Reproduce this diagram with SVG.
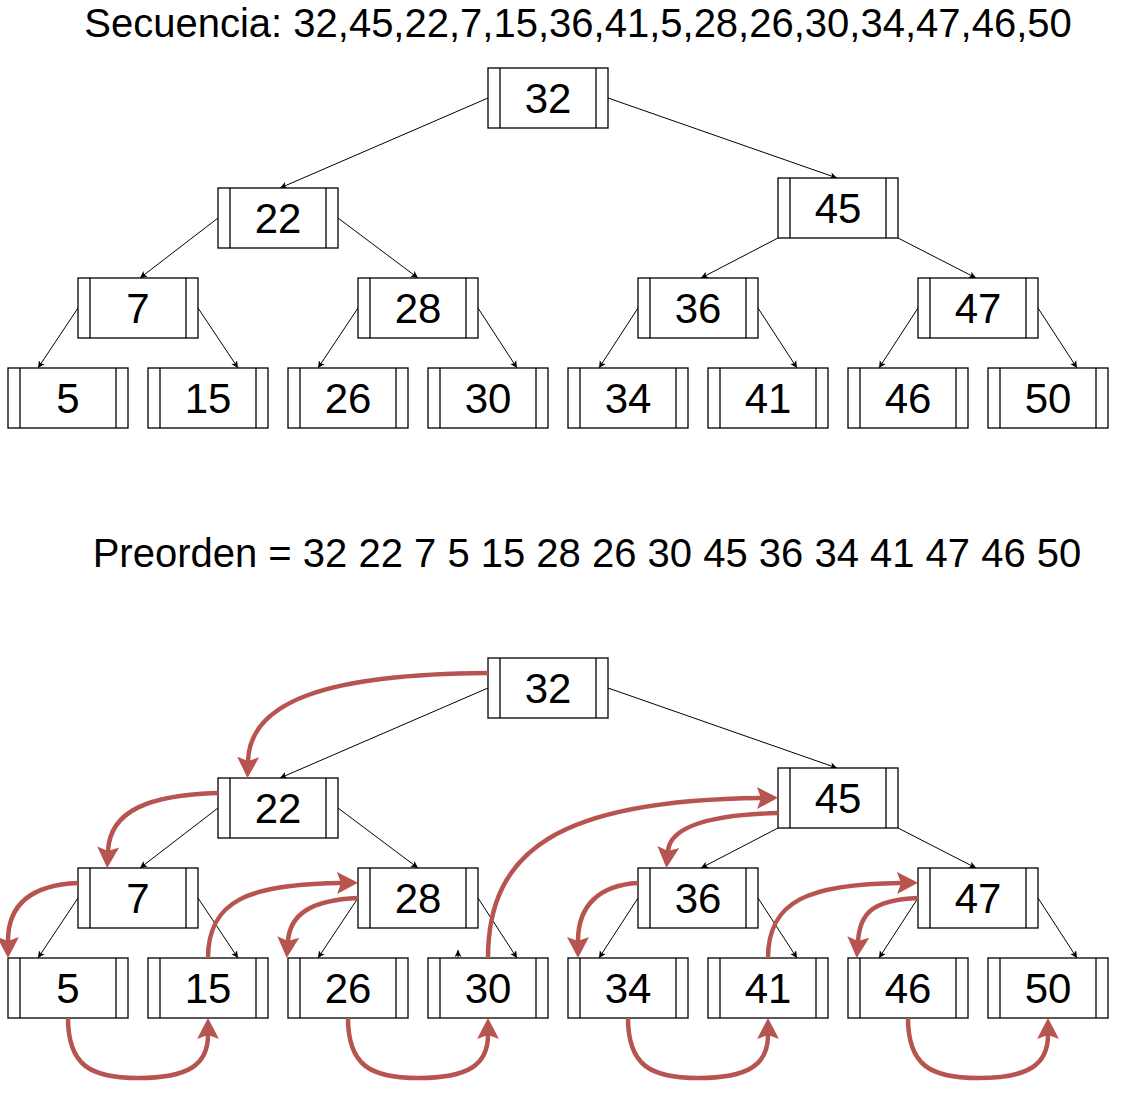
<svg xmlns="http://www.w3.org/2000/svg" width="1129" height="1094" viewBox="0 0 1129 1094">
<style>
.bg{fill:#ffffff}
.box{fill:#ffffff;stroke:#000000;stroke-width:1.3}
.in{stroke:#000000;stroke-width:1.3}
.lbl{font-family:"Liberation Sans",Arial,sans-serif;font-size:42px;fill:#000000;text-anchor:middle}
.ttl{font-family:"Liberation Sans",Arial,sans-serif;font-size:40px;fill:#000000;text-anchor:middle}
.e{fill:none;stroke:#000000;stroke-width:1;marker-end:url(#ba)}
.r{fill:none;stroke:#b85450;stroke-width:4.5;marker-end:url(#ra)}
</style>
<defs>
<marker id="ba" markerUnits="userSpaceOnUse" markerWidth="10" markerHeight="10" viewBox="0 -5 10 10" refX="7" refY="0" orient="auto">
<path d="M0,-3.5 L7,0 L0,3.5 L1.75,0 Z" fill="#000000"/>
</marker>
<marker id="ra" markerUnits="userSpaceOnUse" markerWidth="26" markerHeight="26" viewBox="0 -13 26 26" refX="4" refY="0" orient="auto">
<path d="M0,-11 L21,0 L0,11 L4,0 Z" fill="#b85450"/>
</marker>
<g id="nodeShape">
<rect class="box" x="0" y="0" width="120" height="60"/>
<line class="in" x1="12" y1="0" x2="12" y2="60"/>
<line class="in" x1="108" y1="0" x2="108" y2="60"/>
</g>
</defs>
<rect class="bg" x="0" y="0" width="1129" height="1094"/>

<g id="titles">
<text class="ttl" x="578" y="37">Secuencia: 32,45,22,7,15,36,41,5,28,26,30,34,47,46,50</text>
<text class="ttl" x="587" y="567">Preorden = 32 22 7 5 15 28 26 30 45 36 34 41 47 46 50</text>
</g>

<g id="connectors-top">
<path class="e" d="M488,98 L280,188"/>
<path class="e" d="M608,98 L837,178"/>
<path class="e" d="M218,218 L140,278"/>
<path class="e" d="M338,218 L418,278"/>
<path class="e" d="M778,238 L701,278"/>
<path class="e" d="M898,238 L976,278"/>
<path class="e" d="M78,308 L38,368"/>
<path class="e" d="M198,308 L238,368"/>
<path class="e" d="M358,308 L318,368"/>
<path class="e" d="M478,308 L517,368"/>
<path class="e" d="M638,308 L599,368"/>
<path class="e" d="M758,308 L797,368"/>
<path class="e" d="M918,308 L879,368"/>
<path class="e" d="M1038,308 L1077,368"/>
</g>

<g id="connectors-bottom">
<path class="e" d="M488,688 L280,778"/>
<path class="e" d="M608,688 L837,768"/>
<path class="e" d="M218,808 L140,868"/>
<path class="e" d="M338,808 L418,868"/>
<path class="e" d="M778,828 L701,868"/>
<path class="e" d="M898,828 L976,868"/>
<path class="e" d="M78,898 L38,958"/>
<path class="e" d="M198,898 L238,958"/>
<path class="e" d="M358,898 L318,958"/>
<path class="e" d="M478,898 L517,958"/>
<path class="e" d="M638,898 L599,958"/>
<path class="e" d="M758,898 L797,958"/>
<path class="e" d="M918,898 L879,958"/>
<path class="e" d="M1038,898 L1077,958"/>
<path class="e" d="M458,958 L458,950"/>
</g>

<g id="nodes-top">
<g id="t32"><use href="#nodeShape" x="488" y="68"/><text class="lbl" x="548" y="113">32</text></g>
<g id="t22"><use href="#nodeShape" x="218" y="188"/><text class="lbl" x="278" y="233">22</text></g>
<g id="t45"><use href="#nodeShape" x="778" y="178"/><text class="lbl" x="838" y="223">45</text></g>
<g id="t7"><use href="#nodeShape" x="78" y="278"/><text class="lbl" x="138" y="323">7</text></g>
<g id="t28"><use href="#nodeShape" x="358" y="278"/><text class="lbl" x="418" y="323">28</text></g>
<g id="t36"><use href="#nodeShape" x="638" y="278"/><text class="lbl" x="698" y="323">36</text></g>
<g id="t47"><use href="#nodeShape" x="918" y="278"/><text class="lbl" x="978" y="323">47</text></g>
<g id="t5"><use href="#nodeShape" x="8" y="368"/><text class="lbl" x="68" y="413">5</text></g>
<g id="t15"><use href="#nodeShape" x="148" y="368"/><text class="lbl" x="208" y="413">15</text></g>
<g id="t26"><use href="#nodeShape" x="288" y="368"/><text class="lbl" x="348" y="413">26</text></g>
<g id="t30"><use href="#nodeShape" x="428" y="368"/><text class="lbl" x="488" y="413">30</text></g>
<g id="t34"><use href="#nodeShape" x="568" y="368"/><text class="lbl" x="628" y="413">34</text></g>
<g id="t41"><use href="#nodeShape" x="708" y="368"/><text class="lbl" x="768" y="413">41</text></g>
<g id="t46"><use href="#nodeShape" x="848" y="368"/><text class="lbl" x="908" y="413">46</text></g>
<g id="t50"><use href="#nodeShape" x="988" y="368"/><text class="lbl" x="1048" y="413">50</text></g>
</g>

<g id="nodes-bottom">
<g id="b32"><use href="#nodeShape" x="488" y="658"/><text class="lbl" x="548" y="703">32</text></g>
<g id="b22"><use href="#nodeShape" x="218" y="778"/><text class="lbl" x="278" y="823">22</text></g>
<g id="b45"><use href="#nodeShape" x="778" y="768"/><text class="lbl" x="838" y="813">45</text></g>
<g id="b7"><use href="#nodeShape" x="78" y="868"/><text class="lbl" x="138" y="913">7</text></g>
<g id="b28"><use href="#nodeShape" x="358" y="868"/><text class="lbl" x="418" y="913">28</text></g>
<g id="b36"><use href="#nodeShape" x="638" y="868"/><text class="lbl" x="698" y="913">36</text></g>
<g id="b47"><use href="#nodeShape" x="918" y="868"/><text class="lbl" x="978" y="913">47</text></g>
<g id="b5"><use href="#nodeShape" x="8" y="958"/><text class="lbl" x="68" y="1003">5</text></g>
<g id="b15"><use href="#nodeShape" x="148" y="958"/><text class="lbl" x="208" y="1003">15</text></g>
<g id="b26"><use href="#nodeShape" x="288" y="958"/><text class="lbl" x="348" y="1003">26</text></g>
<g id="b30"><use href="#nodeShape" x="428" y="958"/><text class="lbl" x="488" y="1003">30</text></g>
<g id="b34"><use href="#nodeShape" x="568" y="958"/><text class="lbl" x="628" y="1003">34</text></g>
<g id="b41"><use href="#nodeShape" x="708" y="958"/><text class="lbl" x="768" y="1003">41</text></g>
<g id="b46"><use href="#nodeShape" x="848" y="958"/><text class="lbl" x="908" y="1003">46</text></g>
<g id="b50"><use href="#nodeShape" x="988" y="958"/><text class="lbl" x="1048" y="1003">50</text></g>
</g>

<g id="traversal">
<path class="r" d="M488,673 C330,674 250,700 248,761"/>
<path class="r" d="M218,793 C150,795 110,810 108,851"/>
<path class="r" d="M78,883 C30,885 8,905 8,941"/>
<path class="r" d="M68,1018 C68,1065 90,1078 138,1078 C188,1078 208,1065 208,1035"/>
<path class="r" d="M208,958 C208,900 250,884 341,883"/>
<path class="r" d="M358,898 C310,900 290,915 288,941"/>
<path class="r" d="M348,1018 C348,1065 370,1078 418,1078 C468,1078 488,1065 488,1035"/>
<path class="r" d="M488,958 C488,850 560,800 761,798"/>
<path class="r" d="M778,813 C700,815 670,830 668,851"/>
<path class="r" d="M638,883 C600,885 578,905 578,941"/>
<path class="r" d="M628,1018 C628,1065 650,1078 698,1078 C748,1078 768,1065 768,1035"/>
<path class="r" d="M768,958 C768,900 810,884 901,883"/>
<path class="r" d="M918,898 C870,900 860,915 858,941"/>
<path class="r" d="M908,1018 C908,1065 930,1078 978,1078 C1028,1078 1048,1065 1048,1035"/>
</g>
</svg>
